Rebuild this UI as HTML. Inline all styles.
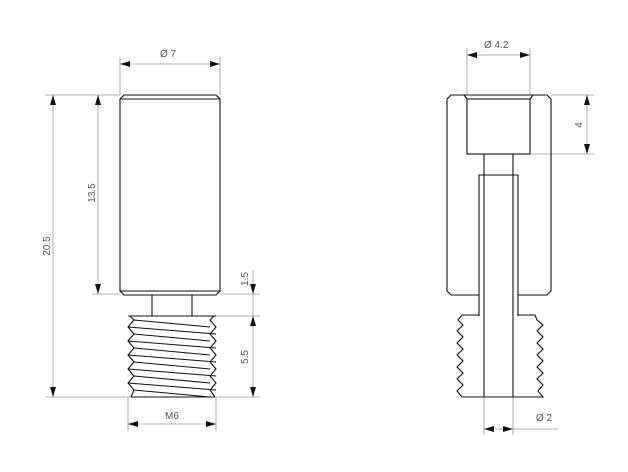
<!DOCTYPE html>
<html><head><style>
html,body{margin:0;padding:0;background:#fff;}
svg{display:block;}
text{font-family:"Liberation Sans",sans-serif;font-size:10px;fill:#555;}
</style></head><body>
<svg width="628" height="472" viewBox="0 0 628 472" xmlns="http://www.w3.org/2000/svg">
<defs>
<marker id="a" viewBox="0 0 10 6" refX="10" refY="3" markerWidth="10" markerHeight="6" orient="auto-start-reverse" markerUnits="userSpaceOnUse"><path d="M0,0 L10,3 L0,6z" fill="#111"/></marker>
</defs>
<g stroke="#999" stroke-width="0.8" fill="none">
<line x1="120" y1="57" x2="120" y2="95"/><line x1="220" y1="57" x2="220" y2="95"/>
<line x1="45" y1="95" x2="120" y2="95"/>
<line x1="92" y1="294" x2="120" y2="294"/>
<line x1="220" y1="294" x2="260" y2="294"/>
<line x1="216" y1="316" x2="260" y2="316"/>
<line x1="45" y1="397" x2="260" y2="397"/>
<line x1="128" y1="397" x2="128" y2="431"/><line x1="216" y1="397" x2="216" y2="431"/>
<line x1="120" y1="64" x2="220" y2="64" marker-start="url(#a)" marker-end="url(#a)"/>
<line x1="53" y1="95" x2="53" y2="397" marker-start="url(#a)" marker-end="url(#a)"/>
<line x1="98" y1="95" x2="98" y2="294" marker-start="url(#a)" marker-end="url(#a)"/>
<line x1="253" y1="270" x2="253" y2="294" marker-end="url(#a)"/>
<line x1="253" y1="294" x2="253" y2="316"/>
<line x1="253" y1="316" x2="253" y2="397" marker-start="url(#a)" marker-end="url(#a)"/>
<line x1="128" y1="424" x2="216" y2="424" marker-start="url(#a)" marker-end="url(#a)"/>
<line x1="467" y1="48" x2="467" y2="95"/><line x1="530" y1="48" x2="530" y2="95"/>
<line x1="467" y1="55" x2="530" y2="55" marker-start="url(#a)" marker-end="url(#a)"/>
<line x1="551" y1="95" x2="594" y2="95"/><line x1="530" y1="154" x2="594" y2="154"/>
<line x1="587" y1="95" x2="587" y2="154" marker-start="url(#a)" marker-end="url(#a)"/>
<line x1="484" y1="397" x2="484" y2="435"/><line x1="513" y1="397" x2="513" y2="435"/>
<line x1="484" y1="429" x2="513" y2="429" marker-start="url(#a)" marker-end="url(#a)"/>
<line x1="513" y1="429" x2="558" y2="429"/>
</g>
<g fill="none" stroke="#111" stroke-width="1.1">
<path d="M124,95 L216,95 L220,99 L220,291 L216,295 L124,295 L120,291 L120,99 Z"/>
<line x1="120" y1="99" x2="220" y2="99"/>
<line x1="120" y1="291" x2="220" y2="291"/>
<line x1="152" y1="295" x2="152" y2="316"/><line x1="192" y1="295" x2="192" y2="316"/>
<path d="M128,316 L216,316"/>
<path d="M130,316 L134,320 L128,327 L134,334 L128,341 L134,348 L128,355 L134,362 L128,369 L134,376 L128,383 L134,390 L131,397"/>
<path d="M214,316 L210,320 L216,327 L210,334 L216,341 L210,348 L216,355 L210,362 L216,369 L210,376 L216,383 L210,390 L215,397"/>
<path d="M128,327 L216,334 M128,341 L216,348 M128,355 L216,362 M128,369 L216,376 M128,383 L216,390"/>
<path d="M134,320 L210,327 M134,334 L210,341 M134,348 L210,355 M134,362 L210,369 M134,376 L210,383 M134,390 L210,397"/>
<line x1="131" y1="397" x2="215" y2="397"/>
<path d="M518,295 L547,295 L551,291 L551,99 L547,95 L451,95 L447,99 L447,291 L451,295 L479,295"/>
<rect x="467" y="99" width="63" height="55"/>
<path d="M464,95 L467,99 M533,95 L530,99"/>
<line x1="484" y1="154" x2="484" y2="397"/><line x1="513" y1="154" x2="513" y2="397"/>
<path d="M479,316 L479,175 L518,175 L518,316"/>
<path d="M479,315 L462,315 L458,320 L463,325 L457,331 L463,337 L457,343 L463,349 L457,355 L463,361 L457,367 L463,373 L457,379 L463,385 L457,391 L462,397 L543,397 L538,391 L543,385 L537,379 L543,373 L537,367 L543,361 L537,355 L543,349 L537,343 L543,337 L537,331 L543,325 L537,320 L535,315 L518,315"/>
</g>
<text x="160" y="57">Ø 7</text>
<text x="484" y="48">Ø 4.2</text>
<text x="165" y="419">M6</text>
<text x="536" y="421" font-size="11">Ø 2</text>
<text transform="translate(50,246) rotate(-90)" text-anchor="middle">20.5</text>
<text transform="translate(95,193) rotate(-90)" text-anchor="middle">13.5</text>
<text transform="translate(248,279) rotate(-90)" text-anchor="middle">1.5</text>
<text transform="translate(248,357) rotate(-90)" text-anchor="middle">5.5</text>
<text transform="translate(582,125) rotate(-90)" text-anchor="middle">4</text>
</svg>
</body></html>
